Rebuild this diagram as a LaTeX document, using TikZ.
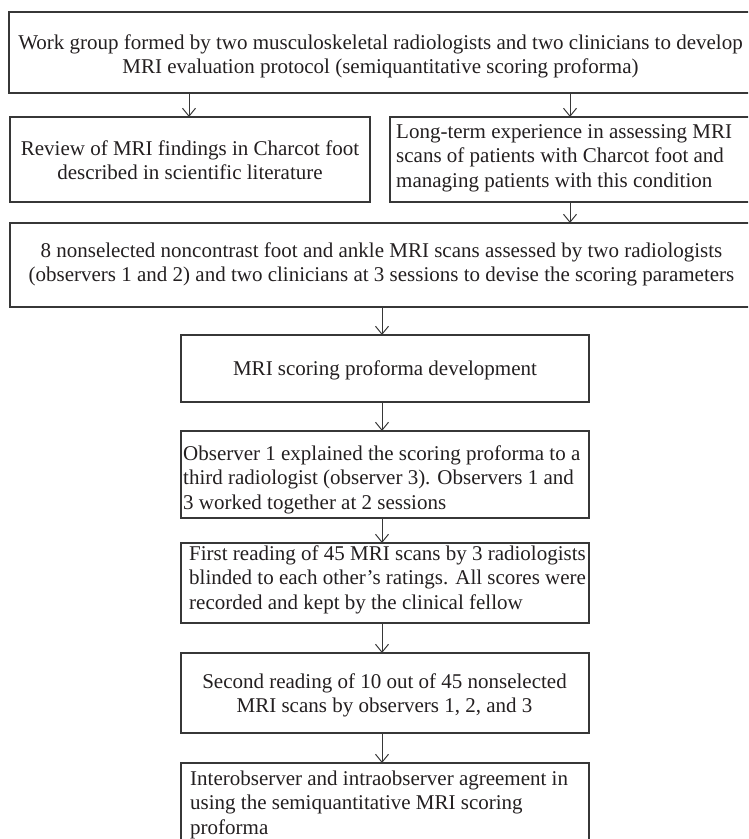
\documentclass[tikz,border=0pt]{standalone}
\usepackage{fontspec}
\setmainfont{Liberation Serif}
\usetikzlibrary{arrows.meta}
\definecolor{ink}{RGB}{35,31,32}
\definecolor{edgecol}{RGB}{55,55,55}
\newcommand{\fst}{\rule{0pt}{16pt}}
\begin{document}
\begin{tikzpicture}[x=1pt,y=-1pt,
  boxst/.style={draw=edgecol, line width=1.2pt, inner sep=0pt, outer sep=0pt, fill=none},
  txt/.style={inner sep=0pt, text=ink, font=\fontsize{21}{24.5}\selectfont},
  arr/.style={draw=edgecol, line width=1pt, -{Straight Barb[length=8pt,width=13pt]}}]
\useasboundingbox (0,0) rectangle (748,839);
\clip (0,0) rectangle (748,839);
% boxes
\node[boxst, minimum width=743pt, minimum height=81pt] (b1) at (380.5,52.5) {};
\node[boxst, minimum width=360pt, minimum height=85pt] (b2L) at (190,159.5) {};
\node[boxst, minimum width=362pt, minimum height=85pt] (b2R) at (571,159.5) {};
\node[boxst, minimum width=742pt, minimum height=84pt] (b3) at (381,265) {};
\node[boxst, minimum width=408pt, minimum height=67pt] (b4) at (385,368.5) {};
\node[boxst, minimum width=408pt, minimum height=87pt] (b5) at (385,474.5) {};
\node[boxst, minimum width=408pt, minimum height=80pt] (b6) at (385,583) {};
\node[boxst, minimum width=408pt, minimum height=80pt] (b7) at (385,693) {};
\node[boxst, minimum width=408pt, minimum height=97pt] (b8) at (385,811.5) {};
% texts
\node[txt, anchor=north, align=center] (t1) at (380.5,33) {\fst Work group formed by two musculoskeletal radiologists and two clinicians to develop\\MRI evaluation protocol (semiquantitative scoring proforma)};
\node[txt, anchor=north, align=center] (t2L) at (190,139) {\fst Review of MRI findings in Charcot foot\\described in scientific literature};
\node[txt, anchor=north west, align=left] (t2R) at (396,122) {\fst Long-term experience in assessing MRI\\scans of patients with Charcot foot and\\managing patients with this condition};
\node[txt, anchor=north, align=center] (t3) at (381.5,241) {\fst 8 nonselected noncontrast foot and ankle MRI scans assessed by two radiologists\\(observers 1 and 2) and two clinicians at 3 sessions to devise the scoring parameters};
\node[txt, anchor=north, align=center] (t4) at (385,359) {\fst MRI scoring proforma development};
\node[txt, anchor=north west, align=left] (t5) at (183,444) {\fst Observer 1 explained the scoring proforma to a\\third radiologist (observer 3). Observers 1 and\\3 worked together at 2 sessions};
\node[txt, anchor=north west, align=left] (t6) at (189,544) {\fst First reading of 45 MRI scans by 3 radiologists\\blinded to each other’s ratings. All scores were\\recorded and kept by the clinical fellow};
\node[txt, anchor=north, align=center] (t7) at (384.5,672) {\fst Second reading of 10 out of 45 nonselected\\MRI scans by observers 1, 2, and 3};
\node[txt, anchor=north west, align=left] (t8) at (190,769) {\fst Interobserver and intraobserver agreement in\\using the semiquantitative MRI scoring\\proforma};
% connectors
\coordinate (ax) at (382,0);
\coordinate (axL) at (189,0);
\coordinate (axR) at (570,0);
\draw[arr] (b1.south -| axL) -- (b2L.north -| axL);
\draw[arr] (b1.south -| axR) -- (b2R.north -| axR);
\draw[arr] (b2R.south -| axR) -- (b3.north -| axR);
\draw[arr] (b3.south -| ax) -- (b4.north -| ax);
\draw[arr] (b4.south -| ax) -- (b5.north -| ax);
\draw[arr] (b5.south -| ax) -- (b6.north -| ax);
\draw[arr] (b6.south -| ax) -- (b7.north -| ax);
\draw[arr] (b7.south -| ax) -- (b8.north -| ax);
\end{tikzpicture}
\end{document}
